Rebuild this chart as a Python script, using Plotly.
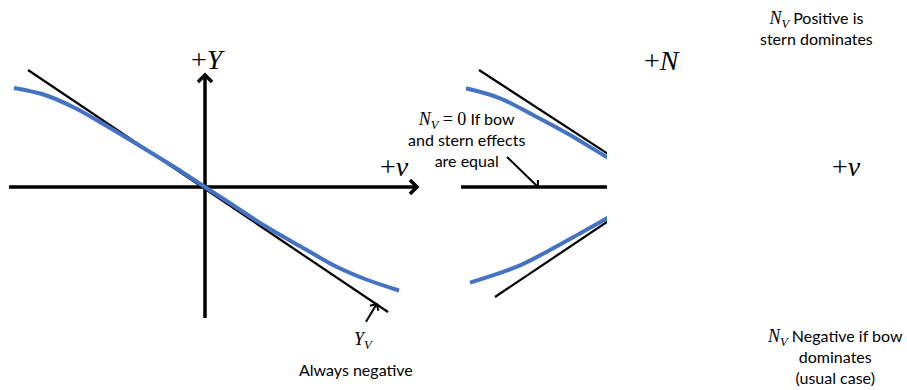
import math
import plotly.graph_objects as go

W, H = 907, 390
BLUE = "#4472C4"
INK = "black"
TEXT_FONT = "Lato"
MATH_FONT = "Liberation Serif"

# ---- Side force Y against sway velocity v (left panel, origin at axis crossing)
side_v = [-191, -160, -130, -100, -60, -30, 0, 30, 60, 100, 130, 160, 194]
side_Y = [99, 92, 79, 62, 38, 19.5, 0, -19.5, -39, -62, -79, -92, -103.5]
# linear slope Y_v at the origin
side_tan_v = [-177, 183]
side_tan_Y = [117, -125]
side_axis_v = [-196, 212]
side_axis_Y = [-131, 112]

# ---- Yaw moment N against sway velocity v (right panel)
yaw_pos_v = [-193, -159, -126, -92, -54, 0]
yaw_pos_N = [98.7, 88.7, 72, 53.7, 31, 0]
yaw_neg_v = [-189, -142, -109, -76, -52, 0]
yaw_neg_N = [-95.7, -79.7, -63, -44.7, -31.3, 0]
yaw_pos_tan_v = [-180, 0]
yaw_pos_tan_N = [117, 0]
yaw_neg_tan_v = [-164, 0]
yaw_neg_tan_N = [-110, 0]
yaw_axis_v = [-198, 190]

# pointer arrows (tail, tip)
yv_pointer = ([161, 171.7], [-134.7, -117])
nv0_pointer = ([-152, -121], [30, 0])

fig = go.Figure()


def line(x, y, color=INK, width=2, xa="x", ya="y", shape="linear"):
    fig.add_trace(go.Scatter(x=x, y=y, mode="lines", xaxis=xa, yaxis=ya,
                             line=dict(color=color, width=width, shape=shape,
                                       smoothing=1.0 if shape == "spline" else None),
                             hoverinfo="skip", showlegend=False))


def chevron(x0, y0, x1, y1, arm, width, xa="x", ya="y"):
    """Open arrowhead at (x1, y1) pointing away from (x0, y0)."""
    ang = math.atan2(y1 - y0, x1 - x0)
    pts_x, pts_y = [], []
    for s in (1, None, -1):
        if s is None:
            pts_x.append(x1)
            pts_y.append(y1)
            continue
        a = ang + math.pi + s * math.radians(45)
        pts_x.append(x1 + arm * math.cos(a))
        pts_y.append(y1 + arm * math.sin(a))
    line(pts_x, pts_y, width=width, xa=xa, ya=ya)


# left panel axes
line(side_axis_v, [0, 0], width=3.5)
chevron(side_axis_v[0], 0, side_axis_v[1], 0, 10, 3.5)
line([0, 0], side_axis_Y, width=3.5)
chevron(0, side_axis_Y[0], 0, side_axis_Y[1], 10, 3.5)
line(side_tan_v, side_tan_Y, width=2.2)
line(side_v, side_Y, color=BLUE, width=4, shape="spline")
line(*yv_pointer, width=2)
chevron(yv_pointer[0][0], yv_pointer[1][0], yv_pointer[0][1], yv_pointer[1][1], 7, 2)

# right panel
line(yaw_axis_v, [0, 0], width=3.5, xa="x2", ya="y2")
line(yaw_pos_tan_v, yaw_pos_tan_N, width=2.2, xa="x2", ya="y2")
line(yaw_neg_tan_v, yaw_neg_tan_N, width=2.2, xa="x2", ya="y2")
line(yaw_pos_v, yaw_pos_N, color=BLUE, width=4, xa="x2", ya="y2", shape="spline")
line(yaw_neg_v, yaw_neg_N, color=BLUE, width=4, xa="x2", ya="y2", shape="spline")
line(*nv0_pointer, width=2, xa="x2", ya="y2")
chevron(nv0_pointer[0][0], nv0_pointer[1][0], nv0_pointer[0][1], nv0_pointer[1][1], 7, 2,
        xa="x2", ya="y2")

hidden = dict(visible=False, showgrid=False, zeroline=False, fixedrange=True)
fig.update_layout(
    width=W, height=H,
    margin=dict(l=0, r=0, t=0, b=0),
    paper_bgcolor="white", plot_bgcolor="rgba(0,0,0,0)",
    showlegend=False,
    xaxis=dict(hidden, domain=[0, 1], range=[-205, W - 205]),
    yaxis=dict(hidden, domain=[0, 1], range=[-(H - 187), 187]),
    xaxis2=dict(hidden, domain=[0, 607 / W], range=[-659, 607 - 659], anchor="y2"),
    yaxis2=dict(hidden, domain=[0, 1], range=[-(H - 187), 187], anchor="x2"),
)


def note(text, x, y, size=16, family=TEXT_FONT):
    fig.add_annotation(text=text, x=x / W, y=1 - y / H, xref="paper", yref="paper",
                       showarrow=False, xanchor="center", yanchor="middle",
                       align="center", font=dict(family=family, size=size, color=INK))


def m(s):
    return f'<span style="font-family:{MATH_FONT};font-size:18px">{s}</span>'


NV = m("<i>N</i><sub><i>V</i></sub>")

note("+<i>Y</i>", 208, 59, size=28, family=MATH_FONT)
note("+<i>v</i>", 394, 166, size=28, family=MATH_FONT)
note("+<i>N</i>", 662, 60, size=28, family=MATH_FONT)
note("+<i>v</i>", 846, 166, size=28, family=MATH_FONT)
note(f"{NV} {m('= 0')} If bow<br>and stern effects<br>are equal", 466, 139)
note(f"{NV} Positive is<br>stern dominates", 816, 28)
note(f"{NV} Negative if bow<br>dominates<br>(usual case)", 835, 356)
note("<i>Y</i><sub><i>V</i></sub>", 363, 340, size=18, family=MATH_FONT)
note("Always negative", 356, 369)

fig.write_html("out.html")
